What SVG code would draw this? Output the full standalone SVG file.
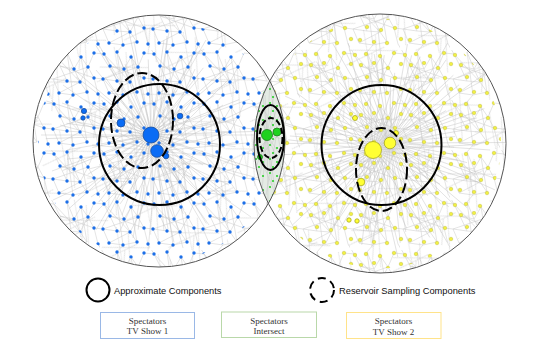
<svg xmlns="http://www.w3.org/2000/svg" xmlns:xlink="http://www.w3.org/1999/xlink" width="545" height="359" viewBox="0 0 545 359">
<style>
.edge{fill:none;stroke:#c9c9c9;stroke-width:0.5}
.hubedge{fill:none;stroke:#bdbdbd;stroke-width:0.5;opacity:0.8}
.border{fill:none;stroke:#555;stroke-width:1}
.comp{fill:none;stroke:#000;stroke-width:2}
.dash{fill:none;stroke:#000;stroke-width:2;stroke-dasharray:10 4}
.blue{fill:#0b6cf5;stroke:#1b4f9e;stroke-width:0.8}
.yel{fill:#ffff33;stroke:#a8a820;stroke-width:0.8}
.grn{fill:#1fd21f;stroke:#1f7f1f;stroke-width:0.8}
.lbl{font-family:"Liberation Sans",Arial,sans-serif;font-size:9.3px;fill:#111}
.box{fill:#fff;stroke-width:1}
.btxt{font-family:"Liberation Serif","Times New Roman",serif;font-size:9px;fill:#333;text-anchor:middle}
</style>
<defs>
<clipPath id="clipL"><circle cx="159" cy="141" r="126"/></clipPath>
<clipPath id="clipR"><ellipse cx="380" cy="143.5" rx="126" ry="129.5"/></clipPath>
<clipPath id="clipLd"><circle cx="159" cy="141" r="121"/></clipPath>
<clipPath id="clipRd"><ellipse cx="380" cy="143.5" rx="121" ry="125"/></clipPath>
<clipPath id="clipLens"><path d="M269.5 79.5A126 126 0 0 1 268.5 203.2A126 129.5 0 0 1 269.5 79.5Z"/></clipPath>
<pattern id="edges" width="50" height="50" patternUnits="userSpaceOnUse">
<path class="edge" d="M4 4L10 16L24 19L31 7L38 17L44 28L48 44M24 19L30 32L37 42L23 45L9 43L3 29L17 31L30 32M17 2L24 19M44 3L38 17M10 16L17 31M30 32L38 17M4 4L30 32M31 7L37 42M3 29L38 17M17 2L23 45M10 16L44 28M9 43L30 32M44 3L54 4M-6 3L4 4M48 44L54 54M-2 -6L4 4M44 28L53 29M-6 28L3 29M23 45L17 52M23 -5L17 2"/>
</pattern>
<pattern id="edges2" x="17" y="23" width="50" height="50" patternUnits="userSpaceOnUse" patternTransform="rotate(33)">
<path class="edge" d="M4 4L30 32M31 7L9 43M44 3L3 29M17 2L48 44M24 19L37 42"/>
</pattern>
<pattern id="dotsB" width="50" height="50" patternUnits="userSpaceOnUse">
<g fill="#1c6fe8">
<circle cx="4" cy="4" r="1.7"/><circle cx="17" cy="2" r="1.7"/><circle cx="31" cy="7" r="1.7"/><circle cx="44" cy="3" r="1.7"/>
<circle cx="10" cy="16" r="1.7"/><circle cx="24" cy="19" r="1.7"/><circle cx="38" cy="17" r="1.7"/>
<circle cx="3" cy="29" r="1.7"/><circle cx="17" cy="31" r="1.7"/><circle cx="30" cy="32" r="1.7"/><circle cx="44" cy="28" r="1.7"/>
<circle cx="9" cy="43" r="1.7"/><circle cx="23" cy="45" r="1.7"/><circle cx="37" cy="42" r="1.7"/><circle cx="48" cy="44" r="1.7"/>
</g>
</pattern>
<pattern id="dotsY" x="7" y="11" width="50" height="50" patternUnits="userSpaceOnUse">
<g fill="#f2f042" stroke="#b5b530" stroke-width="0.4">
<circle cx="4" cy="4" r="1.8"/><circle cx="17" cy="2" r="1.8"/><circle cx="31" cy="7" r="1.8"/><circle cx="44" cy="3" r="1.8"/>
<circle cx="10" cy="16" r="1.8"/><circle cx="24" cy="19" r="1.8"/><circle cx="38" cy="17" r="1.8"/>
<circle cx="3" cy="29" r="1.8"/><circle cx="17" cy="31" r="1.8"/><circle cx="30" cy="32" r="1.8"/><circle cx="44" cy="28" r="1.8"/>
<circle cx="9" cy="43" r="1.8"/><circle cx="23" cy="45" r="1.8"/><circle cx="37" cy="42" r="1.8"/><circle cx="48" cy="44" r="1.8"/>
</g>
</pattern>
<pattern id="dotsG" x="1" y="2" width="14" height="14" patternUnits="userSpaceOnUse">
<g fill="#2bcf2b"><circle cx="3" cy="3" r="1.1"/><circle cx="10" cy="6" r="1.1"/><circle cx="6" cy="11" r="1.1"/></g>
</pattern>
<path id="star1" class="hubedge" d="M151 135L261 135M151 135L225 148M151 135L240 167M151 135L203 165M151 135L231 202M151 135L206 200M151 135L206 230M151 135L177 205M151 135L168 229M151 135L151 195M151 135L133 238M151 135L122 215M151 135L96 230M151 135L103 192M151 135L78 196M151 135L99 165M151 135L52 171M151 135L67 150M151 135L41 135M151 135L77 122M151 135L62 103M151 135L99 105M151 135L71 67M151 135L96 70M151 135L96 40M151 135L125 64M151 135L134 41M151 135L151 75M151 135L169 32M151 135L180 55M151 135L206 40M151 135L199 78M151 135L224 74M151 135L203 105M151 135L250 99M151 135L235 120"/>
<path id="star2" class="hubedge" d="M157 151L222 157M157 151L254 177M157 151L229 185M157 151L251 217M157 151L206 200M157 151L209 225M157 151L184 210M157 151L183 248M157 151L164 231M157 151L148 251M157 151L139 219M157 151L119 233M157 151L120 204M157 151L86 222M157 151L91 197M157 151L53 200M157 151L89 169M157 151L67 159M157 151L92 145M157 151L60 125M157 151L85 117M157 151L63 85M157 151L108 102M157 151L105 77M157 151L130 92M157 151L131 54M157 151L150 71M157 151L167 36M157 151L175 83M157 151L195 69M157 151L194 98M157 151L228 80M157 151L223 105M157 151L261 102M157 151L225 133M157 151L247 143"/>
</defs>
<rect width="545" height="359" fill="#fff"/>

<g id="connectors">
<g clip-path="url(#clipL)">
<rect x="30" y="10" width="260" height="262" fill="url(#edges)"/>
<rect x="30" y="10" width="260" height="262" fill="url(#edges2)"/>
<use xlink:href="#star1"/>
<use xlink:href="#star2"/>
<use xlink:href="#star1" transform="rotate(18 151 135)"/>
</g>
<g clip-path="url(#clipR)">
<rect x="250" y="10" width="260" height="268" fill="url(#edges)"/>
<rect x="250" y="10" width="260" height="268" fill="url(#edges2)"/>
<use xlink:href="#star1" transform="rotate(17 373 150) translate(222 15)"/>
<use xlink:href="#star2" transform="rotate(-11 390 143) translate(233 -8)"/>
<use xlink:href="#star2" transform="rotate(25 390 143) translate(233 -8)"/>
</g>
</g>

<g id="show1-nodes">
<rect x="30" y="10" width="260" height="262" fill="url(#dotsB)" clip-path="url(#clipLd)"/>
</g>
<g id="show2-nodes">
<rect x="250" y="10" width="260" height="268" fill="url(#dotsY)" clip-path="url(#clipRd)"/>
</g>

<g id="intersect" clip-path="url(#clipLens)">
<rect x="250" y="75" width="40" height="132" fill="#e4ebe4"/>
<path class="hubedge" d="M267 135L262 85M267 135L270 82M267 135L275 90M267 135L283 110M267 135L286 140M267 135L282 170M267 135L275 190M267 135L268 202M267 135L262 190M267 135L257 165M267 135L254 140M267 135L258 110M267 135L265 95M267 135L280 125M267 135L280 155M267 135L260 175M267 135L272 185M267 135L263 120M277 132L258 100M277 132L256 150M277 132L266 195M277 132L270 85M277 132L284 165M260 157L280 100M260 157L284 128M260 157L276 195"/>
<rect x="250" y="75" width="40" height="132" fill="url(#dotsG)"/>
</g>

<g id="outer-circles">
<circle class="border" cx="159" cy="141" r="126"/>
<ellipse class="border" cx="380" cy="143.5" rx="126" ry="129.5"/>
</g>

<g id="show1-hubs">
<circle class="blue" cx="151" cy="135" r="8"/>
<circle class="blue" cx="157" cy="151" r="6.3"/>
<circle class="blue" cx="121" cy="123" r="4"/>
<circle class="blue" cx="180" cy="116" r="2.8"/>
<circle class="blue" cx="166" cy="156" r="2.8"/>
<circle class="blue" cx="84" cy="111" r="2.6"/>
<circle class="blue" cx="83" cy="118" r="2.2"/>
</g>
<g id="show2-hubs">
<circle class="yel" cx="373" cy="150" r="8.5"/>
<circle class="yel" cx="390" cy="143" r="5.8"/>
<circle class="yel" cx="361" cy="182" r="3.8"/>
<circle class="yel" cx="355" cy="118" r="2.5"/>
<circle class="yel" cx="396" cy="133" r="2.5"/>
<circle class="yel" cx="349" cy="220" r="2.2"/>
<circle class="yel" cx="357" cy="221" r="2.2"/>
</g>
<g id="intersect-hubs">
<circle class="grn" cx="267" cy="135" r="5.5"/>
<circle class="grn" cx="277" cy="132" r="4"/>
<circle class="grn" cx="260" cy="157" r="2.5"/>
</g>

<g id="components">
<circle class="comp" cx="159.5" cy="144.5" r="60.5"/>
<ellipse class="dash" cx="142" cy="120.5" rx="31" ry="47.5"/>
<circle class="comp" cx="381.5" cy="145" r="60"/>
<ellipse class="dash" cx="381.5" cy="169.5" rx="25.5" ry="41.5"/>
<ellipse class="comp" cx="270.5" cy="137.5" rx="13.5" ry="32.5"/>
<ellipse class="dash" cx="271" cy="138" rx="11.5" ry="20" style="stroke-dasharray:6 3"/>
</g>

<g id="legend-approx">
<circle class="comp" cx="98" cy="290" r="11.5"/>
<text class="lbl" x="114" y="294">Approximate Components</text>
</g>
<g id="legend-reservoir">
<circle class="dash" cx="322" cy="290" r="12" style="stroke-dasharray:8 5"/>
<text class="lbl" x="339" y="293.5">Reservoir Sampling Components</text>
</g>

<g id="box-show1">
<rect class="box" x="100.5" y="312.5" width="94" height="26" stroke="#9ab8e6"/>
<text class="btxt" x="147.5" y="324">Spectators</text>
<text class="btxt" x="147.5" y="334">TV Show 1</text>
</g>
<g id="box-intersect">
<rect class="box" x="221.5" y="312" width="95" height="25.5" stroke="#b9d8a9"/>
<text class="btxt" x="269" y="323.5">Spectators</text>
<text class="btxt" x="269" y="333.5">Intersect</text>
</g>
<g id="box-show2">
<rect class="box" x="346.5" y="312.5" width="94.5" height="26" stroke="#ffe38a"/>
<text class="btxt" x="393.5" y="324">Spectators</text>
<text class="btxt" x="393.5" y="334.5">TV Show 2</text>
</g>
</svg>
